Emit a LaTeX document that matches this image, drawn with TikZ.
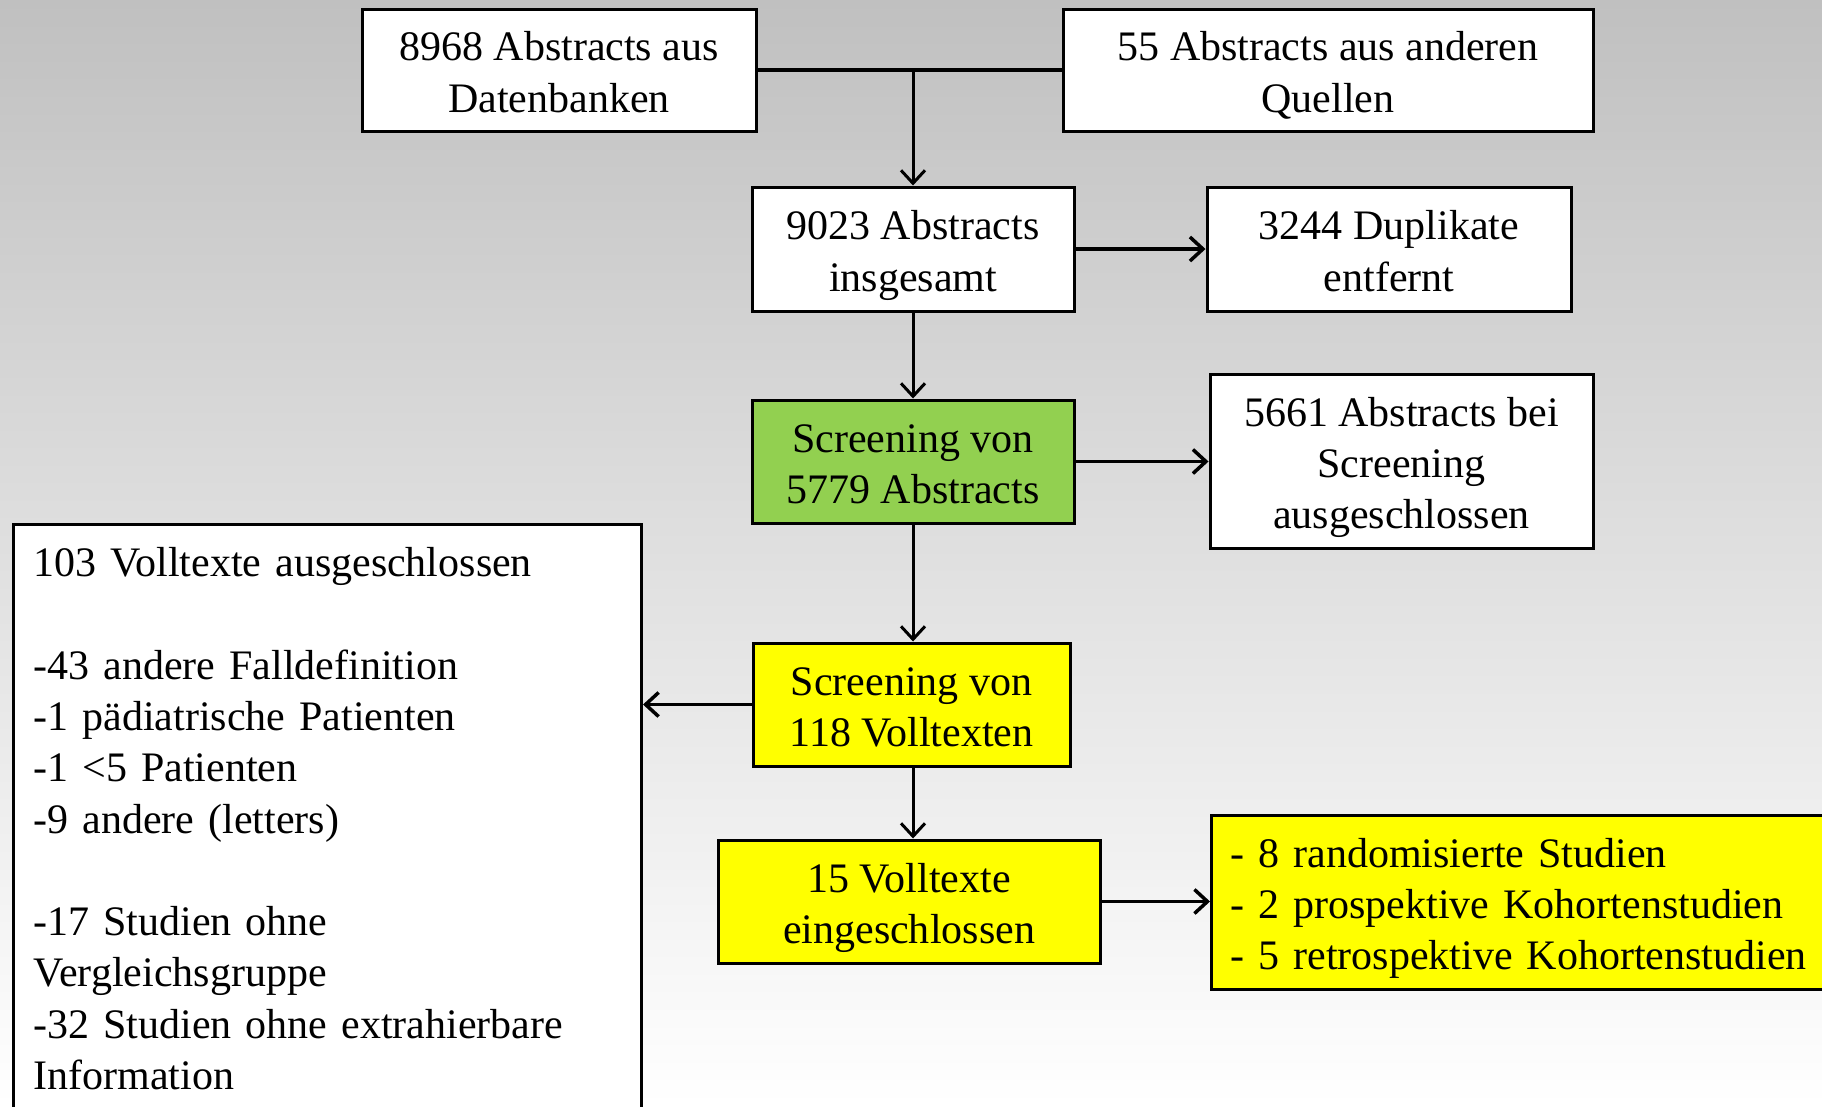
\documentclass[tikz,border=0pt]{standalone}
\usepackage{fontspec}
\setmainfont{Liberation Serif}
\usetikzlibrary{arrows.meta}
\newcommand{\boxfont}{\fontsize{42pt}{51.3pt}\selectfont}
\newcommand{\mystrut}{\rule[-9pt]{0pt}{51pt}}
\newcommand{\lastdeep}{\rule[-50pt]{0pt}{51pt}}
\definecolor{bgtop}{RGB}{192,192,192}
\definecolor{boxgreen}{RGB}{146,208,80}
\definecolor{boxyellow}{RGB}{255,255,0}
\tikzset{
  box/.style={draw=black, line width=3pt, fill=white, inner sep=0pt, align=center, font=\boxfont},
  arr/.style={line width=3pt, -{Straight Barb[length=13pt,width=24pt]}},
  harr/.style={line width=3.5pt, -{Straight Barb[length=13pt,width=24pt]}},
  joinline/.style={line width=3.5pt}
}
\begin{document}
\begin{tikzpicture}[x=1pt,y=-1pt]
\shade[top color=bgtop, bottom color=white] (0,0) rectangle (1822,1106);
\useasboundingbox (0,0) rectangle (1822,1106);
\clip (0,0) rectangle (1822,1106);

\node[box, minimum width=394pt, minimum height=122pt] (a) at (559,70) {\mystrut 8968 Abstracts aus\\Datenbanken\mystrut};
\node[box, minimum width=530pt, minimum height=122pt] (b) at (1328,70) {\mystrut 55 Abstracts aus anderen\\Quellen\mystrut};
\node[box, minimum width=322pt, minimum height=124pt] (c) at (913,249) {\mystrut 9023 Abstracts\\insgesamt\mystrut};
\node[box, minimum width=364pt, minimum height=124pt] (d) at (1389,249) {\mystrut 3244 Duplikate\\entfernt\mystrut};
\node[box, fill=boxgreen, minimum width=322pt, minimum height=123pt] (e) at (913,461.5) {\mystrut Screening von\\5779 Abstracts\mystrut};
\node[box, minimum width=383pt, minimum height=174pt] (f) at (1401.5,461) {\mystrut 5661 Abstracts bei\\Screening\\ausgeschlossen\mystrut};
\node[box, fill=boxyellow, minimum width=317pt, minimum height=123pt] (h) at (911.5,704.5) {\mystrut Screening von\\118 Volltexten\mystrut};
\node[box, fill=boxyellow, minimum width=382pt, minimum height=123pt] (i) at (909,901.5) {\mystrut 15 Volltexte\\eingeschlossen\mystrut};
\node[box, fill=boxyellow, anchor=west, minimum width=640pt, minimum height=174pt, inner xsep=19pt, text width=602pt, align=left] (j) at (1210,902) {\mystrut - 8 randomisierte Studien\\- 2 prospektive Kohortenstudien\\- 5 retrospektive Kohortenstudien\mystrut};
\node[box, anchor=north west, minimum width=628pt, minimum height=625pt, inner xsep=20pt, text width=588pt, align=left] (g) at (12,523) {\mystrut 103 Volltexte ausgeschlossen\\\mbox{}\\-43 andere Falldefinition\\-1 pädiatrische Patienten\\-1 <5 Patienten\\-9 andere (letters)\\\mbox{}\\-17 Studien ohne\\Vergleichsgruppe\\-32 Studien ohne extrahierbare\\Information\lastdeep};

\coordinate (jn) at (c.north |- a.east);
\draw[joinline] (a.east) -- (b.west);
\draw[arr] (jn) -- (c.north);
\draw[harr] (c.east) -- (d.west);
\draw[arr] (c.south) -- (e.north);
\draw[harr] (e.east) -- (f.west |- e.east);
\draw[arr] (e.south) -- (e.south |- h.north);
\draw[harr] (h.west) -- (g.east |- h.west);
\draw[arr] (h.south -| e.south) -- (e.south |- i.north);
\draw[harr] (i.east) -- (j.west |- i.east);
\end{tikzpicture}
\end{document}
